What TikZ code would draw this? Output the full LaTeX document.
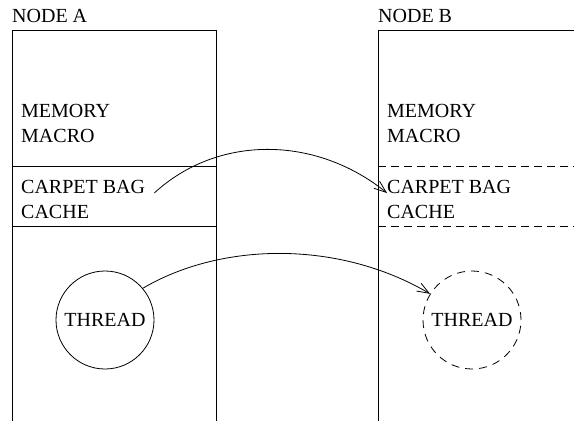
\documentclass[tikz,border=0pt]{standalone}
\usepackage{fontspec}
\setmainfont{Liberation Serif}
\usetikzlibrary{arrows.meta}
\begin{document}
\begin{tikzpicture}[x=1pt,y=-1pt,
  every node/.style={inner sep=0pt,font=\fontsize{20}{25}\selectfont},
  wall/.style={line width=0.8pt},
  ghost/.style={line width=0.8pt,dash pattern=on 8pt off 5pt},
  label/.style={anchor=base west},
  proc/.style={circle,draw,line width=0.8pt,minimum size=98pt},
  ghostproc/.style={proc,dash pattern=on 8pt off 6pt},
  migrate/.style={line width=0.8pt,-{Straight Barb[length=12pt,width=9pt]}}
]
\useasboundingbox (0,0) rectangle (574,421);

% node A: open-bottomed frame with solid section dividers
\draw[wall] (12,421) -- (12,30) -- (216,30) -- (216,421);
\draw[wall] (12,166) -- (216,166);
\draw[wall] (12,226) -- (216,226);

% node B: frame running off the right edge, dashed dividers
\draw[wall] (378,421) -- (378,30) -- (574,30);
\draw[ghost] (378,166) -- (574,166);
\draw[ghost] (378,226) -- (574,226);

% titles
\node[label] (titleA) at (12,22) {NODE A};
\node[label] (titleB) at (378,22) {NODE B};

% memory regions
\node[label] (memA) at (21,117) {MEMORY};
\node[label] (macA) at (21,142) {MACRO};
\node[label] (cbA) at (21,193) {CARPET BAG};
\node[label] (cacheA) at (21,218) {CACHE};

\node[label] (memB) at (387,117) {MEMORY};
\node[label] (macB) at (387,142) {MACRO};
\node[label] (cbB) at (387,193) {CARPET BAG};
\node[label] (cacheB) at (387,218) {CACHE};

% threads
\node[proc] (thA) at (105,320) {THREAD};
\node[ghostproc] (thB) at (472,320) {THREAD};

% migration arrows
\draw[migrate] ([xshift=9pt]cbA.base east) .. controls +(63,-58) and +(-72,-58) .. (cbB.base west);
\draw[migrate] (thA.40) .. controls +(80,-47) and +(-90,-53) .. (thB.148);
\end{tikzpicture}
\end{document}
